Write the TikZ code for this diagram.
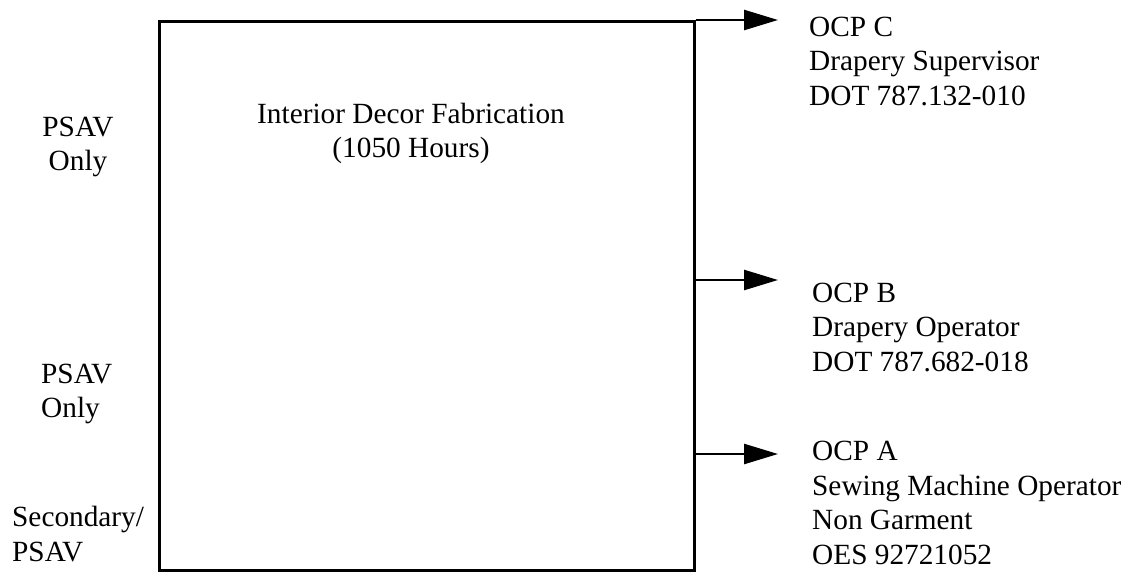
\documentclass[tikz,border=0pt]{standalone}
\usepackage{fontspec}
\setmainfont{Liberation Serif}
\usetikzlibrary{arrows.meta}
\tikzset{
  lbl/.style={inner sep=0pt, align=left, font=\fontsize{29.3}{34.5}\selectfont},
  boxst/.style={draw, line width=2.5pt, inner sep=0pt},
  arr/.style={line width=2.5pt, -{Triangle[length=34pt, width=20pt]}}
}
\begin{document}
\begin{tikzpicture}[x=1pt, y=-1pt]
\useasboundingbox (0,0) rectangle (1125,571);
\node[boxst, minimum width=535pt, minimum height=549pt, anchor=north west] (box) at (158,20) {};
\node[lbl, align=center, anchor=base] (title) at (411,157.5) {Interior Decor Fabrication\\(1050 Hours)};
\node[lbl, align=center, anchor=base] (psav1) at (78,170.5) {PSAV\\Only};
\node[lbl, anchor=base west] (psav2) at (41,417.5) {PSAV\\Only};
\node[lbl, anchor=base west] (sec) at (12,561) {Secondary/\\PSAV};
\node[lbl, anchor=base west] (ocpc) at (809,105) {OCP C\\Drapery Supervisor\\DOT 787.132-010};
\node[lbl, anchor=base west] (ocpb) at (812,371) {OCP B\\Drapery Operator\\DOT 787.682-018};
\node[lbl, anchor=base west] (ocpa) at (812,564) {OCP A\\Sewing Machine Operator\\Non Garment\\OES 92721052};
\coordinate (tC) at (778,20);
\coordinate (tB) at (778,280);
\coordinate (tA) at (778,454);
\draw[arr] (box.north east) -- (tC);
\draw[arr] (box.east |- tB) -- (tB);
\draw[arr] (box.east |- tA) -- (tA);
\end{tikzpicture}
\end{document}
